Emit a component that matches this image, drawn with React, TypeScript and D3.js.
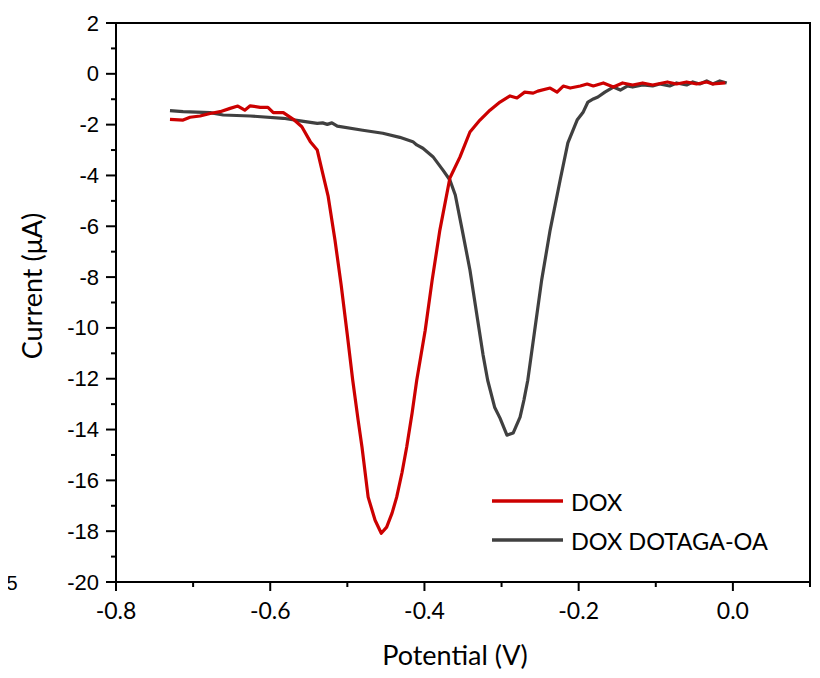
import { useEffect, useRef } from 'react';
import * as d3 from 'd3';

// DOX (red) – potential (V) / current (µA)
const doxV = [-0.730, -0.713, -0.704, -0.691, -0.678, -0.665, -0.652, -0.642, -0.633, -0.626, -0.613, -0.603, -0.596, -0.583, -0.570, -0.559, -0.548, -0.539, -0.532, -0.525, -0.516, -0.508, -0.500, -0.493, -0.486, -0.481, -0.473, -0.464, -0.456, -0.449, -0.442, -0.436, -0.429, -0.423, -0.416, -0.410, -0.399, -0.390, -0.380, -0.367, -0.354, -0.341, -0.328, -0.315, -0.302, -0.289, -0.280, -0.270, -0.259, -0.253, -0.237, -0.228, -0.220, -0.211, -0.198, -0.189, -0.181, -0.168, -0.155, -0.143, -0.130, -0.117, -0.104, -0.085, -0.073, -0.060, -0.047, -0.034, -0.026, -0.010];
const doxI = [-1.79, -1.82, -1.71, -1.66, -1.56, -1.49, -1.36, -1.27, -1.43, -1.26, -1.32, -1.32, -1.53, -1.53, -1.79, -2.08, -2.67, -3.00, -3.91, -4.80, -6.55, -8.31, -10.28, -12.06, -13.63, -14.69, -16.66, -17.57, -18.08, -17.84, -17.29, -16.66, -15.68, -14.69, -13.35, -12.06, -10.09, -8.12, -6.15, -4.10, -3.28, -2.29, -1.82, -1.43, -1.11, -0.87, -0.95, -0.72, -0.76, -0.68, -0.56, -0.72, -0.48, -0.56, -0.48, -0.40, -0.48, -0.36, -0.52, -0.36, -0.44, -0.36, -0.44, -0.32, -0.40, -0.32, -0.40, -0.32, -0.40, -0.36];

// DOX DOTAGA-OA (grey)
const otaV = [-0.730, -0.713, -0.678, -0.661, -0.626, -0.583, -0.561, -0.539, -0.532, -0.526, -0.520, -0.513, -0.480, -0.454, -0.432, -0.415, -0.410, -0.402, -0.389, -0.376, -0.367, -0.360, -0.351, -0.341, -0.331, -0.324, -0.318, -0.309, -0.302, -0.293, -0.285, -0.276, -0.271, -0.266, -0.257, -0.248, -0.237, -0.224, -0.214, -0.202, -0.194, -0.188, -0.181, -0.175, -0.166, -0.155, -0.146, -0.137, -0.130, -0.117, -0.104, -0.095, -0.082, -0.073, -0.060, -0.052, -0.043, -0.034, -0.026, -0.017, -0.008];
const otaI = [-1.45, -1.49, -1.53, -1.62, -1.66, -1.75, -1.85, -1.95, -1.93, -1.99, -1.93, -2.06, -2.22, -2.34, -2.50, -2.67, -2.80, -2.93, -3.26, -3.79, -4.18, -4.77, -6.15, -7.72, -9.69, -11.06, -12.06, -13.12, -13.55, -14.22, -14.14, -13.51, -12.84, -12.06, -10.09, -8.12, -6.15, -4.18, -2.72, -1.82, -1.50, -1.11, -0.99, -0.91, -0.72, -0.52, -0.64, -0.48, -0.52, -0.44, -0.48, -0.40, -0.48, -0.36, -0.44, -0.32, -0.40, -0.28, -0.40, -0.28, -0.36];

const xTicks = [-0.8, -0.6, -0.4, -0.2, 0.0];
const yTicks = [2, 0, -2, -4, -6, -8, -10, -12, -14, -16, -18, -20];
const seriesNames = ['DOX', 'DOX DOTAGA-OA'];
const seriesColors = ['#cc0000', '#404040'];

const W = 820;
const H = 678;
const margin = { left: 116, right: 10, top: 23, bottom: 96 };
const calibri = "Lato, 'Open Sans', sans-serif";
const arial = "'Liberation Sans', Arial, sans-serif";

function App() {
  const svgRef = useRef<SVGSVGElement | null>(null);

  useEffect(() => {
    const svg = d3.select(svgRef.current);
    svg.selectAll('*').remove();

    const x = d3.scaleLinear().domain([-0.8, 0.1]).range([margin.left, W - margin.right]);
    const y = d3.scaleLinear().domain([-20, 2]).range([H - margin.bottom, margin.top]);
    const x0 = x(-0.8), x1 = x(0.1), y0 = y(-20), y1 = y(2);

    svg.append('rect').attr('width', W).attr('height', H).attr('fill', '#fff');

    // leftover edge of the neighbouring panel
    svg.append('line')
      .attr('x1', 3).attr('x2', 3).attr('y1', 18).attr('y2', 578)
      .attr('stroke', '#333').attr('stroke-width', 2);
    svg.append('text')
      .attr('x', 1).attr('y', 590)
      .attr('font-family', arial).attr('font-size', 20)
      .text('.5');

    // frame
    svg.append('rect')
      .attr('x', x0).attr('y', y1)
      .attr('width', x1 - x0).attr('height', y0 - y1)
      .attr('fill', 'none').attr('stroke', '#000').attr('stroke-width', 2);

    // y ticks
    const yMinor = d3.range(-19, 2, 2);
    yMinor.forEach(v => {
      svg.append('line')
        .attr('x1', x0 - 5).attr('x2', x0).attr('y1', y(v)).attr('y2', y(v))
        .attr('stroke', '#000').attr('stroke-width', 2);
    });
    yTicks.forEach(v => {
      svg.append('line')
        .attr('x1', x0 - 10).attr('x2', x0).attr('y1', y(v)).attr('y2', y(v))
        .attr('stroke', '#000').attr('stroke-width', 2);
      svg.append('text')
        .attr('x', x0 - 17).attr('y', y(v) + 7.5)
        .attr('text-anchor', 'end')
        .attr('font-family', arial).attr('font-size', 22)
        .attr('fill', '#000')
        .text(String(v));
    });

    // x ticks
    const xMinor = [-0.7, -0.5, -0.3, -0.1, 0.1];
    xMinor.forEach(v => {
      svg.append('line')
        .attr('x1', x(v)).attr('x2', x(v)).attr('y1', y0).attr('y2', y0 + 5)
        .attr('stroke', '#000').attr('stroke-width', 2);
    });
    xTicks.forEach(v => {
      svg.append('line')
        .attr('x1', x(v)).attr('x2', x(v)).attr('y1', y0).attr('y2', y0 + 9)
        .attr('stroke', '#000').attr('stroke-width', 2);
      svg.append('text')
        .attr('x', x(v)).attr('y', 619)
        .attr('text-anchor', 'middle')
        .attr('font-family', calibri).attr('font-size', 23)
        .attr('fill', '#000')
        .text(v.toFixed(1));
    });

    // axis titles
    svg.append('text')
      .attr('x', 455).attr('y', 665)
      .attr('text-anchor', 'middle')
      .attr('font-family', calibri).attr('font-size', 27)
      .text('Potential (V)');
    svg.append('text')
      .attr('transform', 'translate(42, 286) rotate(-90)')
      .attr('text-anchor', 'middle')
      .attr('font-family', calibri).attr('font-size', 27)
      .text('Current (μA)');

    // curves
    const line = d3.line<[number, number]>()
      .x(d => x(d[0]))
      .y(d => y(d[1]));
    const series: [number, number][][] = [
      doxV.map((v, i) => [v, doxI[i]]),
      otaV.map((v, i) => [v, otaI[i]]),
    ];
    [1, 0].forEach(k => {
      svg.append('path')
        .attr('d', line(series[k]))
        .attr('fill', 'none')
        .attr('stroke', seriesColors[k])
        .attr('stroke-width', 3.2)
        .attr('stroke-linejoin', 'round');
    });

    // legend
    seriesNames.forEach((name, i) => {
      const ly = 501 + i * 39;
      svg.append('line')
        .attr('x1', 492).attr('x2', 563).attr('y1', ly).attr('y2', ly)
        .attr('stroke', seriesColors[i]).attr('stroke-width', 3.5);
      svg.append('text')
        .attr('x', 571).attr('y', ly + 10)
        .attr('font-family', calibri).attr('font-size', 23.5)
        .attr('fill', '#000')
        .text(name);
    });
  }, []);

  return (
    <div style={{ width: W, height: H, margin: -8 }}>
      <svg ref={svgRef} width={W} height={H} style={{ display: 'block' }} />
    </div>
  );
}

export default App;
